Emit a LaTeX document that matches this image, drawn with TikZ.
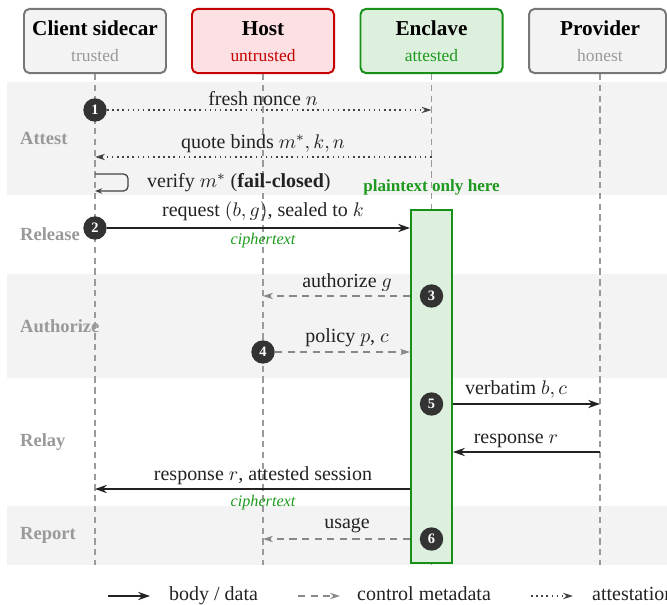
\documentclass[tikz,border=0pt]{standalone}
\usepackage{fontspec}
\setmainfont{Liberation Serif}
\usetikzlibrary{arrows.meta,positioning}

\definecolor{bandgray}{HTML}{F3F3F3}
\definecolor{boxgray}{HTML}{777777}
\definecolor{boxfill}{HTML}{F3F3F3}
\definecolor{hostred}{HTML}{C40000}
\definecolor{hostfill}{HTML}{FDE0E3}
\definecolor{encgreen}{HTML}{169016}
\definecolor{encfill}{HTML}{DDF0DD}
\definecolor{txtgreen}{HTML}{1E9A1E}
\definecolor{phasegray}{HTML}{999999}
\definecolor{lifegray}{HTML}{9A9A9A}
\definecolor{ctrlgray}{HTML}{888888}
\definecolor{ink}{HTML}{222222}
\definecolor{numfill}{HTML}{333333}

\tikzset{%
  every node/.style={
    inner sep=1pt
  },
  actor/.style={draw, rounded corners=3pt, line width=1.1pt,
    minimum width=78.9pt, minimum height=35.6pt},
  title/.style={anchor=base, font=\fontsize{11.8}{13}\selectfont\bfseries},
  role/.style={anchor=base, font=\fontsize{9.7}{11}\selectfont},
  phase/.style={anchor=west, text=phasegray, font=\fontsize{10.3}{12}\selectfont\bfseries},
  lifeline/.style={lifegray, line width=0.7pt, dash pattern=on 3.5pt off 2.5pt},
  bar/.style={draw=encgreen, fill=encfill, line width=1.1pt,
    minimum width=22.8pt, minimum height=196.1pt},
  num/.style={circle, fill=numfill, text=white, minimum size=13pt,
    inner sep=0pt, font=\fontsize{8}{9}\selectfont\bfseries},
  msg/.style={anchor=base, text=ink, font=\fontsize{11.1}{13}\selectfont},
  cipher/.style={anchor=base, text=txtgreen, font=\fontsize{9}{11}\selectfont\itshape},
  body/.style={ink, line width=1.1pt, -{Stealth[length=6.5pt,width=4.5pt]}},
  ctrl/.style={ctrlgray, line width=0.85pt, dash pattern=on 4pt off 3pt,
    -{Stealth[length=5.5pt,width=3.5pt]}},
  attest/.style={ink!85, line width=0.85pt, dash pattern=on 0.85pt off 2pt,
    -{Stealth[length=5.5pt,width=3.5pt]}},
  selfloop/.style={ink!85, line width=0.7pt, rounded corners=2.5pt,
    -{Stealth[length=4pt,width=3pt]}}
}

\begin{document}
\begin{tikzpicture}[x=0.5556pt,y=-0.5556pt]
        \useasboundingbox (0,0) rectangle (667,605);
        \clip (0,0) rectangle (667,605);
        % phase bands
        \fill[bandgray] (7,82) rectangle (667,195);
        \fill[bandgray] (7,274) rectangle (667,378);
        \fill[bandgray] (7,506) rectangle (667,565);
        \node[phase] (attest) at (18,138.5) {Attest};
        \node[phase] (release) at (18,234.5) {Release};
        \node[phase] (authorize) at (18,326) {Authorize};
        \node[phase] (relay) at (18,442) {Relay};
        \node[phase] (report) at (18,535.5) {Report};
        % actors
        \node[actor, draw=boxgray, fill=boxfill] (client) at (95,41) {};
        \node[actor, draw=hostred, fill=hostfill] (host) at (263,41) {};
        \node[actor, draw=encgreen, fill=encfill] (enclave) at (431.5,41) {};
        \node[actor, draw=boxgray, fill=boxfill, minimum width=76.1pt] (provider) at (597.5,41) {};
        \node[title] (clientT) at (95,36) {Client sidecar};
        \node[title] (hostT) at (263,36) {Host};
        \node[title] (enclaveT) at (431.5,36) {Enclave};
        \node[title] (providerT) at (600,36) {Provider};
        \node[role, text=phasegray] (clientR) at (95,62) {trusted};
        \node[role, text=hostred] (hostR) at (263,62) {untrusted};
        \node[role, text=txtgreen] (enclaveR) at (431.5,62) {attested};
        \node[role, text=phasegray] (providerR) at (600,62) {honest};
        % lifelines
        \coordinate (clientE) at (95,565);
        \coordinate (hostE) at (263,565);
        \coordinate (enclaveE) at (431.5,565);
        \coordinate (providerE) at (600,565);
        \draw[lifeline] (client) -- (clientE);
        \draw[lifeline] (host) -- (hostE);
        \draw[lifeline] (enclave) -- (enclaveE);
        \draw[lifeline] (provider.south -| providerE) -- (providerE);
        \node[bar] (bar) at (431.5,386.5) {};
        \node[anchor=base, text=txtgreen, font=\fontsize{9.5}{11}\selectfont\bfseries] (ptxt) at (431.5,192) {plaintext only here};
        % attest
        \node[num] (1) at (95,110) {1};
        \coordinate (e1) at (431.5,110);
        \draw[attest] (1) -- (e1);
        \node[msg] (m1) at (263,106) {fresh nonce $n$};
        \coordinate (e2) at (431.5,157);
        \coordinate (c2) at (95,157);
        \draw[attest] (e2) -- (c2);
        \node[msg] (m2) at (263,149) {quote binds $m^{*}, k, n$};
        \coordinate (v1) at (95,174);
        \coordinate (v2) at (95,191);
        \draw[selfloop] (v1) -- ++(33,0) -- ++(0,17) -- (v2);
        \node[msg, anchor=base west] (m3) at (145,188) {verify $m^{*}$ (\textbf{fail-closed})};
        % release
        \node[num] (2) at (95,228) {2};
        \draw[body] (2) -- (2 -| bar.west);
        \node[msg] (m4) at (263,217) {request $(b, g)$, sealed to $k$};
        \node[cipher] (ct1) at (263,245) {ciphertext};
        % authorize
        \node[num] (3) at (431.5,296) {3};
        \draw[ctrl] (3 -| bar.west) -- (3 -| host);
        \node[msg] (m5) at (347,288) {authorize $g$};
        \node[num] (4) at (263,352) {4};
        \draw[ctrl] (4) -- (4 -| bar.west);
        \node[msg] (m6) at (347,343) {policy $p$, $c$};
        % relay
        \node[num] (5) at (431.5,404) {5};
        \draw[body] (5 -| bar.east) -- (5 -| providerE);
        \node[msg] (m7) at (516,394) {verbatim $b, c$};
        \coordinate (r1) at (600,452);
        \draw[body] (r1) -- (r1 -| bar.east);
        \node[msg] (m8) at (516,443) {response $r$};
        \coordinate (r2) at (411,489);
        \draw[body] (r2 -| bar.west) -- (r2 -| client);
        \node[msg] (m9) at (263,480) {response $r$, attested session};
        \node[cipher] (ct2) at (263,506) {ciphertext};
        % report
        \node[num] (6) at (431.5,539) {6};
        \draw[ctrl] (6 -| bar.west) -- (6 -| host);
        \node[msg] (m10) at (347,528) {usage};
        % legend
        \coordinate (lgA) at (108,596);
        \coordinate (lgB) at (298,596);
        \coordinate (lgC) at (531,596);
        \draw[body] (lgA) -- ++(42,0) coordinate (lgA2);
        \draw[ctrl] (lgB) -- ++(42,0) coordinate (lgB2);
        \draw[attest] (lgC) -- ++(42,0) coordinate (lgC2);
        \node[msg, anchor=base west] (lg1) at (167,600) {body / data};
        \node[msg, anchor=base west] (lg2) at (355,600) {control metadata};
        \node[msg, anchor=base west] (lg3) at (590,600) {attestation};
      \end{tikzpicture}
\end{document}
